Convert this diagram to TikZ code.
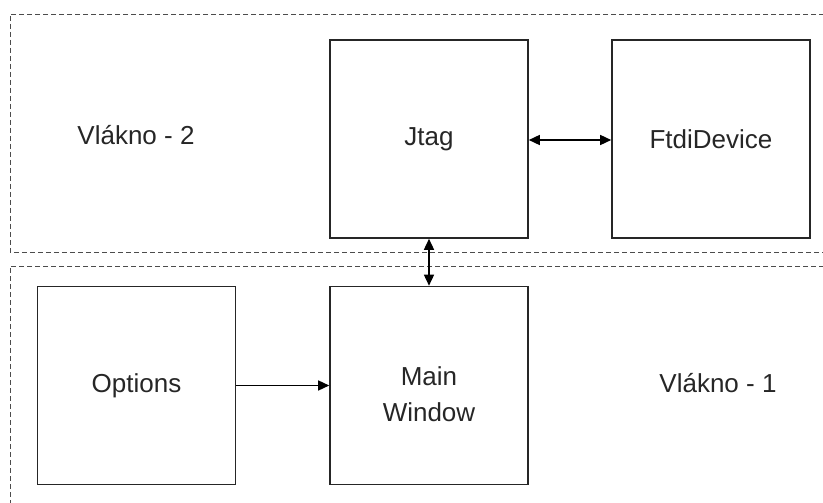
\documentclass[tikz,border=0pt]{standalone}
\usepackage{fontspec}
\setmainfont{Liberation Sans}
\usetikzlibrary{arrows.meta}
\begin{document}
\begin{tikzpicture}[x=1pt,y=-1pt,
  block/.style={draw=black!85,line width=1.6pt,minimum width=198pt,minimum height=198pt,
    inner sep=0pt,align=center,font=\fontsize{26}{31}\selectfont,text=black!85},
  lane/.style={draw=black!70,line width=0.9pt,dash pattern=on 5pt off 3pt},
  label/.style={font=\fontsize{26}{31}\selectfont,text=black!85},
  tip/.tip={Triangle[length=11pt,width=10pt]},
  link/.style={draw=black,line width=1.5pt,-tip},
  link2/.style={draw=black,line width=1.5pt,tip-tip}]
\useasboundingbox (0,0) rectangle (823,503);
% thread lanes
\draw[lane] (840,14) -- (10,14) -- (10,252) -- (840,252);
\draw[lane] (840,266) -- (10,266) -- (10,520);
% components
\node[block] (jtag) at (429,139) {Jtag};
\node[block] (ftdi) at (711,139) {FtdiDevice};
\node[block] (opts) at (136.5,385.5) {Options};
\node[block] (main) at (429,385.5) {};
\node[label,align=center,font=\fontsize{26}{36}\selectfont] (maintext) at (429,394) {Main\\Window};
% lane captions
\node[label] (v2) at (136,135) {Vlákno - 2};
\node[label] (v1) at (718,383) {Vlákno - 1};
% connections
\draw[link2] (jtag.east |- 0,140) -- (ftdi.west |- 0,140);
\draw[link2] (jtag.south) -- (main.north);
\draw[link] (opts.east) -- (main.west);
\end{tikzpicture}
\end{document}
